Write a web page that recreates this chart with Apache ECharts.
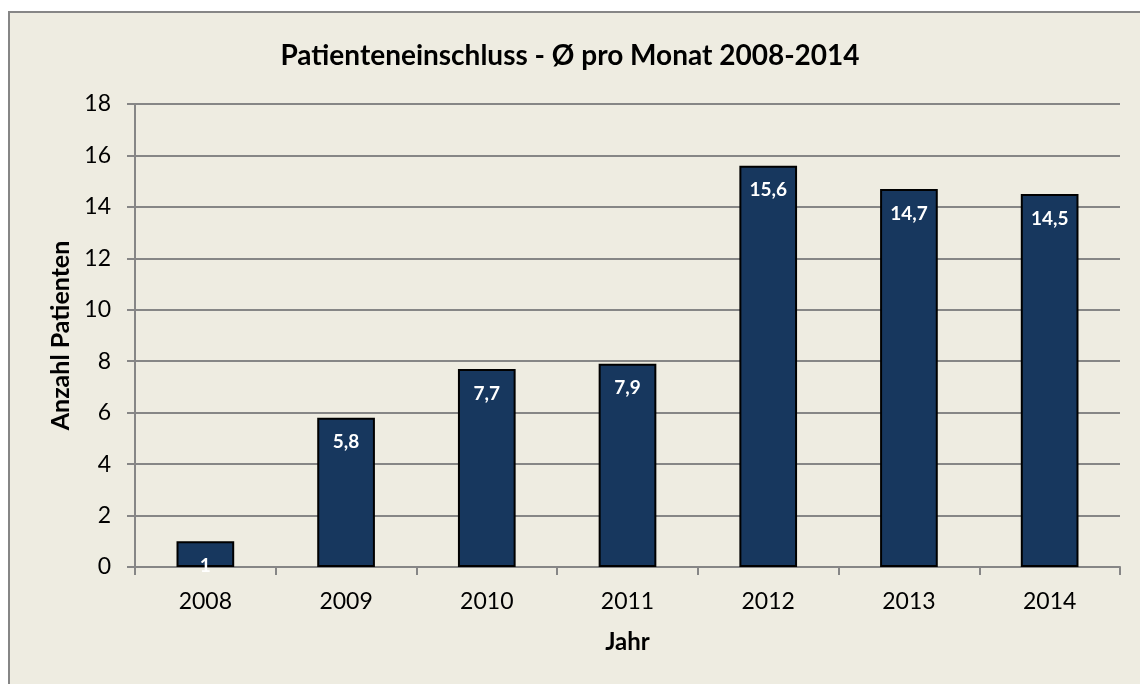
<!DOCTYPE html>
<html>
<head>
<meta charset="utf-8">
<script src="https://cdn.jsdelivr.net/npm/echarts@6/dist/echarts.min.js"></script>
<style>
html, body { margin: 0; padding: 0; background: #fff; }
#chart { width: 1140px; height: 684px; }
</style>
</head>
<body>
<div id="chart"></div>
<script>
const years = ['2008', '2009', '2010', '2011', '2012', '2013', '2014'];
const patients = [1, 5.8, 7.7, 7.9, 15.6, 14.7, 14.5];
const yTicks = { min: 0, max: 18, interval: 2 };

const font = 'Lato, Calibri, "Open Sans", sans-serif';
const gridColor = '#868686';

const myChart = echarts.init(document.getElementById('chart'));

const option = {
    backgroundColor: '#fff',
    textStyle: { fontFamily: font },
    graphic: [
        {
            type: 'rect',
            z: -10,
            shape: { x: 9, y: 12, width: 1200, height: 700 },
            style: { fill: '#EEECE1', stroke: '#868686', lineWidth: 2 }
        }
    ],
    title: {
        text: 'Patienteneinschluss - Ø pro Monat 2008-2014',
        left: 'center',
        top: 37,
        textStyle: { fontFamily: font, fontSize: 28, fontWeight: 'bold', color: '#000' }
    },
    grid: {
        left: 135,
        right: 20,
        top: 104,
        bottom: 117
    },
    xAxis: {
        type: 'category',
        data: years,
        name: 'Jahr',
        nameLocation: 'middle',
        nameGap: 63,
        nameTextStyle: { fontFamily: font, fontSize: 24, fontWeight: 'bold', color: '#000' },
        axisLine: { show: true, lineStyle: { color: gridColor, width: 2 } },
        axisTick: { show: true, length: 8, lineStyle: { color: gridColor, width: 2 } },
        axisLabel: { color: '#000', fontSize: 23, margin: 23 }
    },
    yAxis: {
        type: 'value',
        min: yTicks.min,
        max: yTicks.max,
        interval: yTicks.interval,
        name: 'Anzahl Patienten',
        nameLocation: 'middle',
        nameGap: 62,
        nameTextStyle: { fontFamily: font, fontSize: 25, fontWeight: 'bold', color: '#000' },
        axisLine: { show: true, lineStyle: { color: gridColor, width: 2 } },
        axisTick: { show: true, length: 8, lineStyle: { color: gridColor, width: 2 } },
        axisLabel: { color: '#000', fontSize: 23, margin: 24 },
        splitLine: { show: true, lineStyle: { color: gridColor, width: 2 } }
    },
    series: [
        {
            type: 'bar',
            data: patients,
            barWidth: '41%',
            itemStyle: { color: '#17375E', borderColor: '#000', borderWidth: 2 },
            label: {
                show: true,
                position: 'insideTop',
                distance: 15,
                color: '#fff',
                fontFamily: font,
                fontSize: 19,
                fontWeight: 'bold',
                formatter: (p) => String(p.value).replace('.', ',')
            }
        }
    ]
};

myChart.setOption(option);
</script>
</body>
</html>
